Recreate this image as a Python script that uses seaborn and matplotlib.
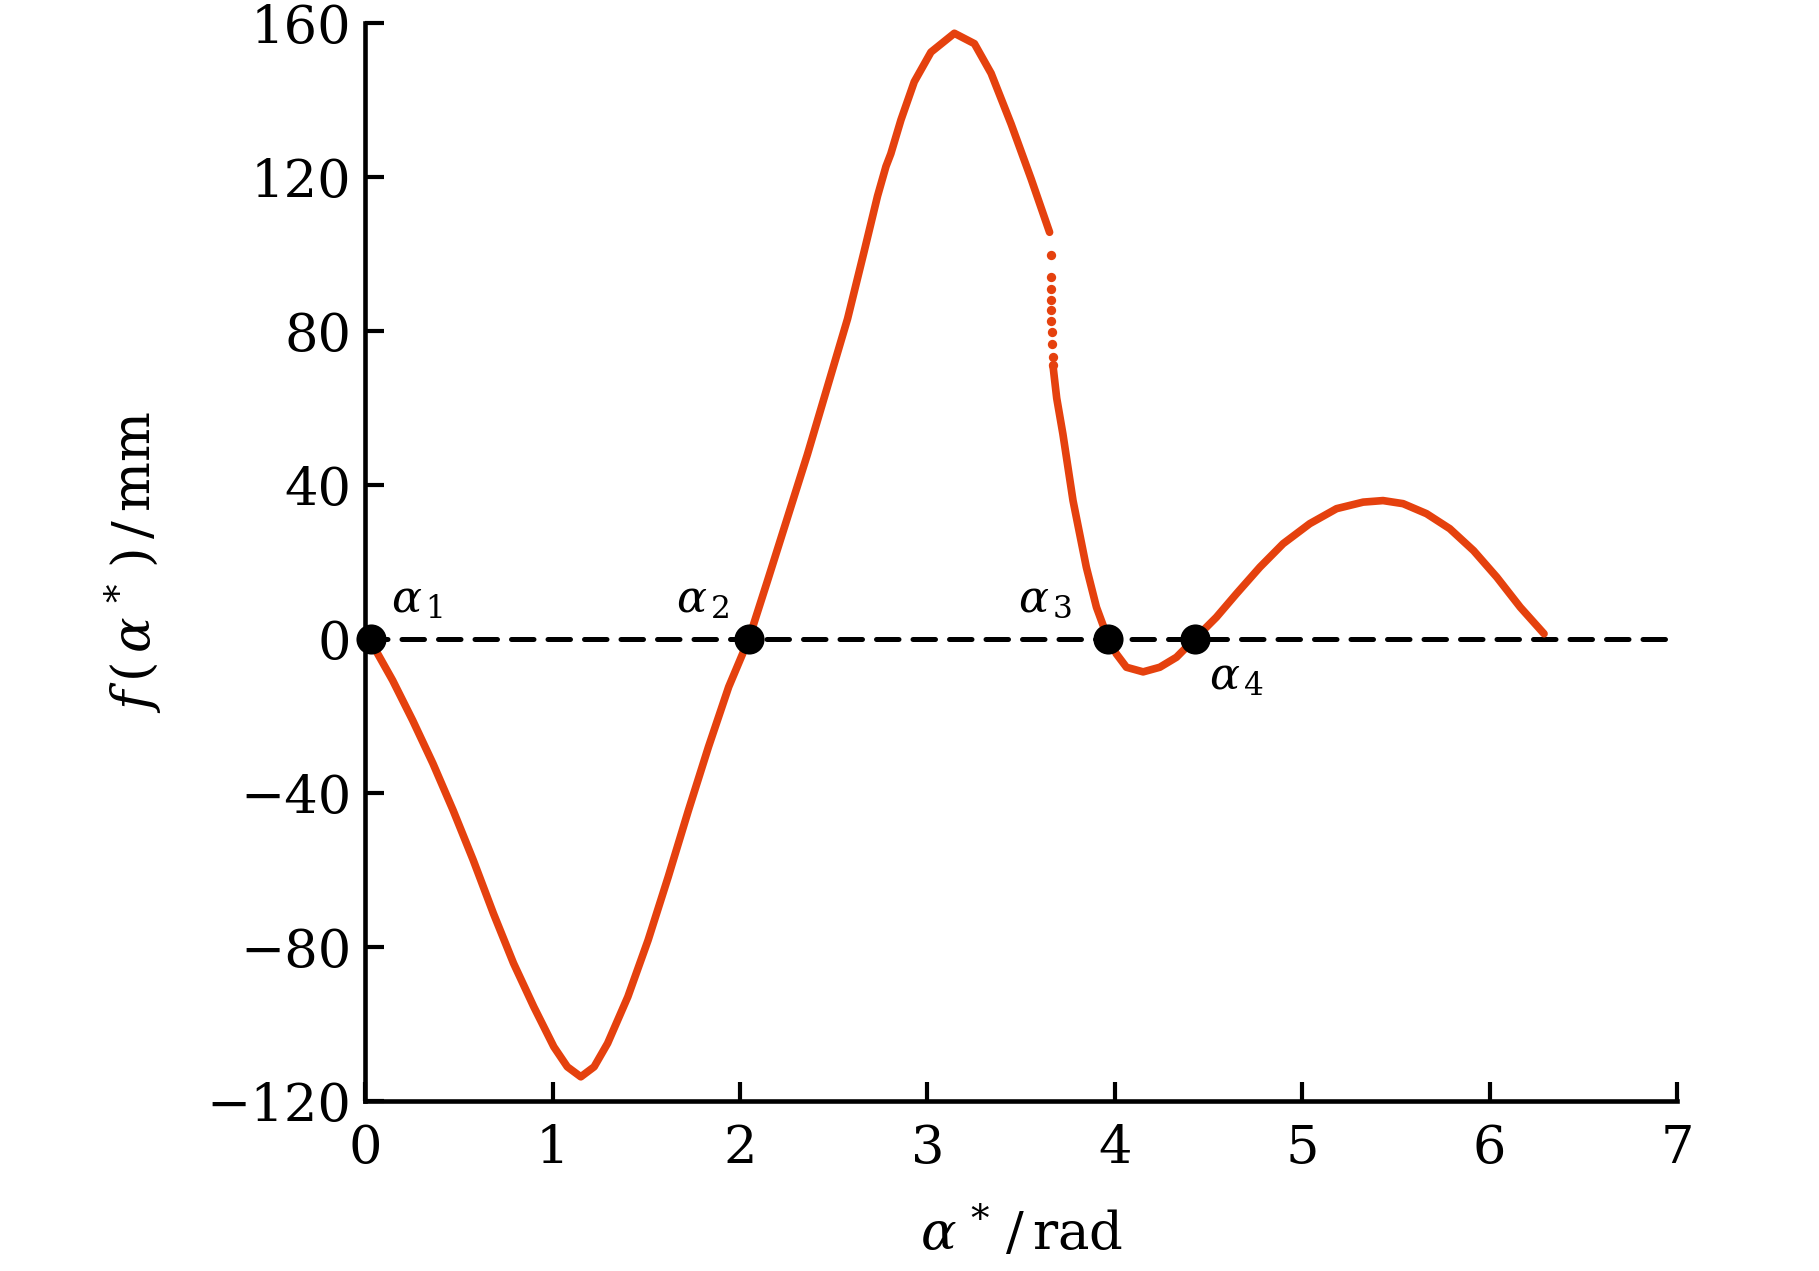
import numpy as np
import pandas as pd
import matplotlib
matplotlib.use("Agg")
import matplotlib.pyplot as plt
import seaborn as sns

# curve: first branch, up to the break near 3.65 rad
seg1_x = [0.02, 0.057, 0.147, 0.254, 0.362, 0.47, 0.577, 0.685, 0.792, 0.90, 1.007,
          1.079, 1.151, 1.222, 1.294, 1.402, 1.51, 1.617, 1.725, 1.832, 1.94, 2.048,
          2.146, 2.253, 2.36, 2.467, 2.574, 2.663, 2.734, 2.779, 2.805, 2.859, 2.93,
          3.019, 3.144, 3.251, 3.34, 3.447, 3.554, 3.652]
seg1_y = [0.0, -3.0, -10.8, -21.2, -32.4, -44.6, -57.5, -71.4, -84.3, -95.6, -106.0,
          -111.2, -113.8, -111.2, -105.1, -93.0, -78.3, -61.9, -44.6, -28.1, -12.5, 0.0,
          14.9, 31.4, 47.9, 65.5, 83.1, 100.7, 115.0, 122.7, 126.0, 134.8, 144.7,
          152.4, 157.3, 154.6, 146.9, 133.7, 119.4, 105.6]

# sparse dots in the gap
gap_x = [3.657, 3.657, 3.658, 3.659, 3.660, 3.662, 3.664, 3.666, 3.668, 3.670]
gap_y = [99.6, 94.1, 90.8, 88.0, 85.3, 82.5, 79.8, 76.5, 73.2, 71.0]

# second branch after the break
seg2_x = [3.670, 3.69, 3.723, 3.777, 3.848, 3.902, 3.964, 4.008, 4.062, 4.151, 4.24,
          4.329, 4.427, 4.542, 4.649, 4.774, 4.898, 5.04, 5.183, 5.325, 5.431, 5.538,
          5.663, 5.787, 5.914, 6.038, 6.163, 6.29]
seg2_y = [71.0, 62.5, 53.2, 35.9, 18.6, 8.2, 0.0, -3.9, -7.4, -8.6, -7.4,
          -4.8, 0.0, 5.6, 11.7, 18.6, 24.7, 29.9, 33.8, 35.5, 35.9, 35.1,
          32.5, 28.6, 22.9, 16.0, 8.2, 1.3]

root_x = [0.03, 2.048, 3.964, 4.427]
root_y = [0, 0, 0, 0]
root_labels = [r"$\alpha_{\,1}$", r"$\alpha_{\,2}$", r"$\alpha_{\,3}$", r"$\alpha_{\,4}$"]
label_x = [0.14, 1.66, 3.485, 4.50]
label_y = [6.9, 6.9, 6.9, -13.2]

zero_x = [0, 7]
zero_y = [0, 0]

x_ticks = [0, 1, 2, 3, 4, 5, 6, 7]
y_ticks = [-120, -80, -40, 0, 40, 80, 120, 160]

curve_color = "#e5410e"

sns.set_theme(style="ticks")
plt.rcParams["font.family"] = ["DejaVu Serif"]
plt.rcParams["mathtext.fontset"] = "dejavuserif"
plt.rcParams["text.color"] = "black"
plt.rcParams["axes.labelcolor"] = "black"

fig = plt.figure(figsize=(18.19, 12.71), dpi=100)
ax = fig.add_axes([0.2007, 0.134, 0.7213, 0.848])

# dashed zero line
ax.plot(zero_x, zero_y, color="black", lw=3.6, dashes=(4.5, 2.8),
        dash_capstyle="round", zorder=2, clip_on=False)

line_kw = dict(color=curve_color, lw=5.5, sort=False, estimator=None, zorder=3,
               solid_joinstyle="round", solid_capstyle="round")
sns.lineplot(x=seg1_x, y=seg1_y, ax=ax, **line_kw)
sns.scatterplot(x=gap_x, y=gap_y, ax=ax, color=curve_color, s=45,
                linewidth=0, zorder=3)
sns.lineplot(x=seg2_x, y=seg2_y, ax=ax, **line_kw)

sns.scatterplot(x=root_x, y=root_y, ax=ax, color="black", s=470,
                linewidth=0, zorder=5, clip_on=False)

for lx, ly, lab in zip(label_x, label_y, root_labels):
    ax.text(lx, ly, lab, fontsize=32, ha="left", va="baseline", color="black")

ax.set_xlim(0, 7)
ax.set_ylim(-120, 160)
ax.set_xticks(x_ticks)
ax.set_yticks(y_ticks)
ax.set_yticklabels([str(v).replace("-", "\u2212") for v in y_ticks])

sns.despine(ax=ax)
for side in ["left", "bottom"]:
    ax.spines[side].set_linewidth(3.3)
    ax.spines[side].set_color("black")

ax.tick_params(axis="both", direction="in", length=14, width=3, colors="black",
               labelsize=38, labelcolor="black")
ax.tick_params(axis="x", pad=16)
ax.tick_params(axis="y", pad=10)

ax.set_xlabel(r"$\alpha^{\,*}\,/\,\mathrm{rad}$", fontsize=38, labelpad=22, color="black")
ax.set_ylabel(r"$f\,(\,\alpha^{\,*}\,)\,/\,\mathrm{mm}$", fontsize=38, labelpad=30, color="black")

fig.savefig("out.png", dpi=100, facecolor="white")
